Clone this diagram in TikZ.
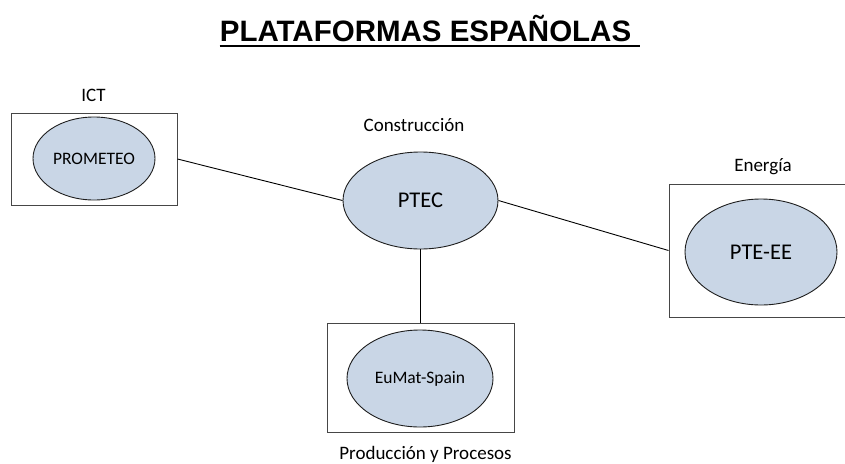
\documentclass[tikz,border=0pt]{standalone}
\usepackage{fontspec}
\usetikzlibrary{shapes.geometric}
\newfontfamily\calibrifont{Carlito}
\newfontfamily\arialfont{Liberation Sans}
\definecolor{ellfill}{RGB}{201,214,230}
\definecolor{ellline}{RGB}{30,30,30}
\definecolor{boxline}{RGB}{70,70,70}
\tikzset{
  platell/.style={ellipse, draw=ellline, fill=ellfill, line width=0.9pt, inner sep=0pt, font=\calibrifont},
  groupbox/.style={rectangle, draw=boxline, line width=1pt, inner sep=0pt},
  grouplabel/.style={anchor=base, inner sep=0pt, font=\calibrifont\fontsize{19}{22}\selectfont},
  link/.style={draw=black, line width=0.9pt}
}
\begin{document}
\begin{tikzpicture}[x=1pt,y=-1pt]
\useasboundingbox (0,0) rectangle (845,463);
% title
\node[anchor=base, inner sep=0pt, font=\arialfont\bfseries\fontsize{29.5}{34}\selectfont] (title) at (425.5,41) {PLATAFORMAS ESPAÑOLAS};
\draw[line width=2pt] ([yshift=-4.5pt]title.base west) -- ([yshift=-4.5pt,xshift=9pt]title.base east);
% boxes
\node[groupbox, minimum width=166pt, minimum height=92pt] (ictbox) at (94,159) {};
\node[groupbox, minimum width=191pt, minimum height=133pt] (enbox) at (764.5,250.5) {};
\node[groupbox, minimum width=187pt, minimum height=109pt] (eubox) at (420.5,377.5) {};
% ellipses
\node[platell, minimum width=122pt, minimum height=83pt, font=\calibrifont\fontsize{17.5}{20}\selectfont] (prometeo) at (94,158.5) {PROMETEO};
\node[platell, minimum width=155pt, minimum height=97pt, font=\calibrifont\fontsize{22.5}{26}\selectfont] (ptec) at (420.5,200.5) {PTEC};
\node[platell, minimum width=152pt, minimum height=106pt, font=\calibrifont\fontsize{22.5}{26}\selectfont] (ptee) at (761,252) {PTE-EE};
\node[platell, minimum width=146pt, minimum height=97pt, font=\calibrifont\fontsize{17.5}{20}\selectfont] (eumat) at (420,378.5) {EuMat-Spain};
% labels
\node[grouplabel] (ictlab) at (93.5,101) {ICT};
\node[grouplabel] (conlab) at (414,131) {Construcción};
\node[grouplabel] (enlab) at (763,171) {Energía};
\node[grouplabel] (prodlab) at (425.5,459) {Producción y Procesos};
% connectors
\draw[link] (ictbox.east) -- (ptec.west);
\draw[link] (ptec.east) -- (enbox.west);
\draw[link] (ptec.south) -- (eubox.north);
\end{tikzpicture}
\end{document}
